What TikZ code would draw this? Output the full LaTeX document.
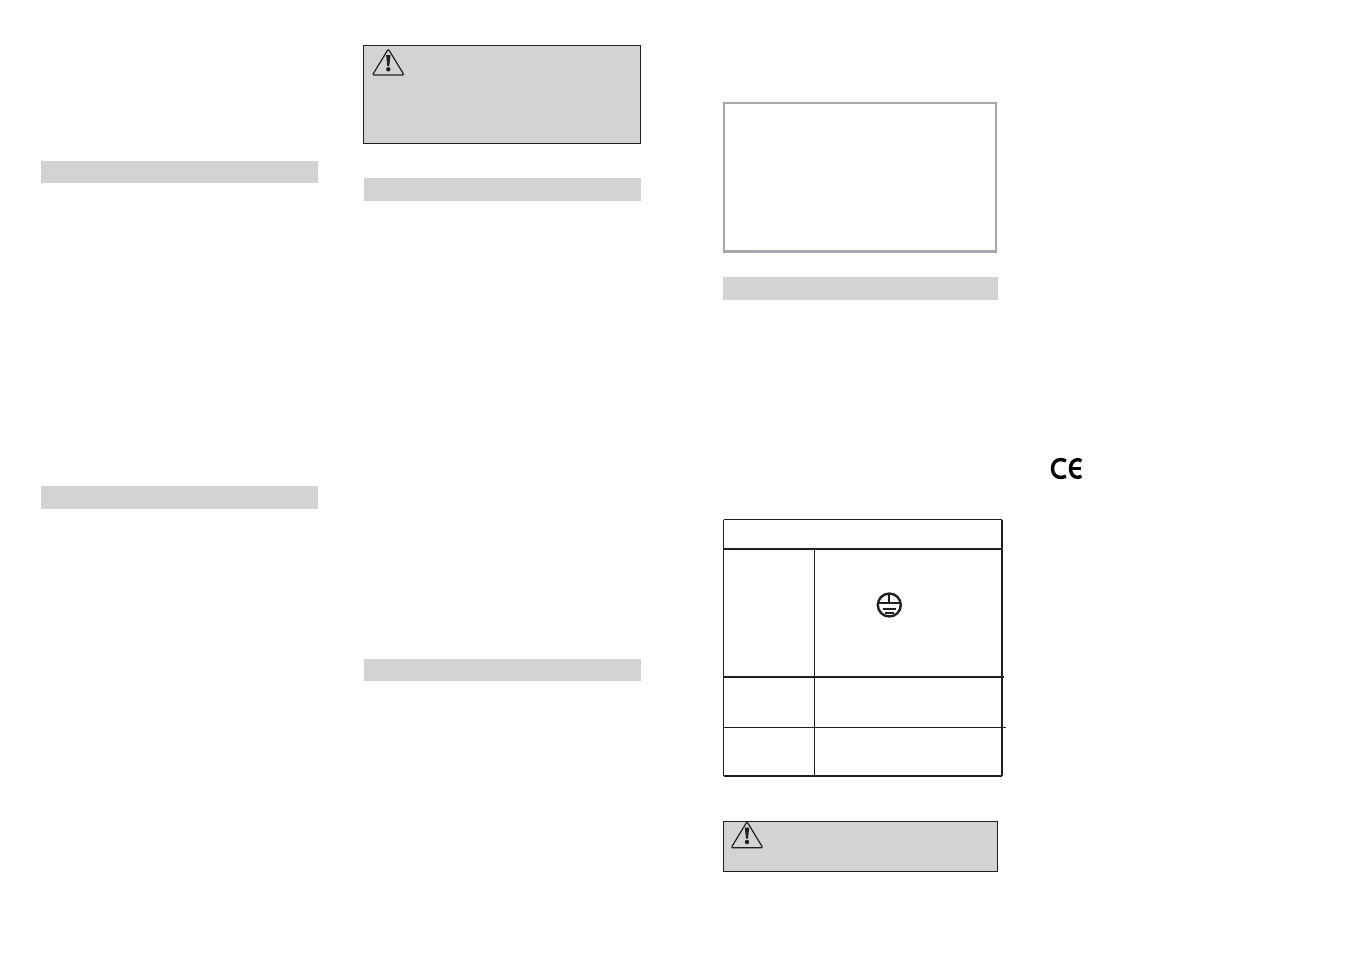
\documentclass[tikz,border=0pt]{standalone}
\usepackage{tikz}
\usetikzlibrary{positioning}
\usepackage{xcolor}
\definecolor{bargray}{HTML}{D1D3D4}
\definecolor{framegray}{HTML}{A7A9AC}
\definecolor{inkdark}{HTML}{231F20}

\begin{document}
\begin{tikzpicture}[
x = 1pt, y = -1pt,
every node/.style = {inner sep = 0pt, outer sep = 0pt, anchor = north west},
bar/.style = {fill = bargray, minimum width = 277pt, minimum height = 22pt},
warnbox/.style = {fill = bargray, draw = inkdark, line width = 1pt},
tableline/.style = {draw = inkdark, line width = 2pt},
thinline/.style = {draw = inkdark, line width = 1.3pt},
warnsign/.pic = {
    \draw[inkdark, line width = 1.2pt, line join = round, rounded corners = 1.2pt]
        (0,0) -- (15.8,26) -- (-15.8,26) -- cycle;
    \fill[inkdark] (-2.2,6) -- (2.2,6) -- (1,17) -- (-1,17) -- cycle;
    \fill[inkdark] (0,20.3) circle (2.2);
}
]
\useasboundingbox (0,0) rectangle (1351,954);

% heading bars
\node[bar] (barA) at (41,161) {};
\node[bar, minimum height = 23pt] (barB) at (41,486) {};
\node[bar, minimum height = 23pt] (barC) at (364,178) {};
\node[bar] (barD) at (364,659) {};
\node[bar, minimum width = 275pt, minimum height = 23pt] (barE) at (723,277) {};

% warning boxes
\node[warnbox, minimum width = 277pt, minimum height = 98.5pt] (warnA) at (363.5,45) {};
\node[warnbox, minimum width = 274pt, minimum height = 50pt] (warnB) at (723.5,821.5) {};
\pic at (388.3,49) {warnsign};
\pic at (747,821.7) {warnsign};

% empty frame
\node[draw = framegray, line width = 2.4pt, minimum width = 272pt, minimum height = 148.4pt] (frame) at (724,103) {};

% table
\coordinate (topL) at (723.5,519.7);
\coordinate (topR) at (1002,519.7);
\coordinate (botL) at (723.5,776);
\coordinate (botR) at (1002,776);
\coordinate (headL) at (723.5,548.7);
\coordinate (headR) at (1002,548.7);
\coordinate (rowAL) at (723.5,676.7);
\coordinate (rowAR) at (1004,676.7);
\coordinate (rowBL) at (723.5,727.3);
\coordinate (rowBR) at (1006,727.3);
\coordinate (colT) at (814.3,548.7);
\coordinate (colB) at (814.3,776);
\draw[thinline] (topL) -- (botL);
\draw[thinline] (topL) -- (topR);
\draw[thinline] (botL) -- (botR);
\draw[tableline] (topR) -- (botR);
\draw[tableline] (headL) -- (headR);
\draw[tableline] (rowAL) -- (rowAR);
\draw[thinline] (rowBL) -- (rowBR);
\draw[thinline] (colT) -- (colB);

% earth symbol
\draw[inkdark, line width = 2.4pt] (889.3,605) circle (11.5);
\draw[inkdark, line width = 2.2pt] (889.3,593) -- (889.3,603);
\draw[inkdark, line width = 2.2pt] (877.3,603) -- (901.3,603);
\draw[inkdark, line width = 2.2pt] (882.5,609.2) -- (896.1,609.2);
\draw[inkdark, line width = 2.2pt] (885,613) -- (893.6,613);
\draw[inkdark, line width = 2.2pt] (886.8,616) -- (891.8,616);

% CE mark
\draw[black, line width = 3.4pt] (1066,460.8) .. controls (1064,460) and (1062,459.6) .. (1060.5,459.6)
    .. controls (1055.5,459.6) and (1052.5,463.5) .. (1052.5,468.5)
    .. controls (1052.5,473.5) and (1055.5,477.4) .. (1060.5,477.4)
    .. controls (1062,477.4) and (1064,477) .. (1066,476.2);
\draw[black, line width = 3.4pt] (1081.5,460.8) .. controls (1080,460) and (1079,459.6) .. (1078,459.6)
    .. controls (1073,459.6) and (1070.5,463.5) .. (1070.5,468.5)
    .. controls (1070.5,473.5) and (1073,477.4) .. (1078,477.4)
    .. controls (1079,477.4) and (1080,477) .. (1081.5,476.2);
\draw[black, line width = 2.8pt] (1071,468.5) -- (1080.5,468.5);
\end{tikzpicture}
\end{document}
